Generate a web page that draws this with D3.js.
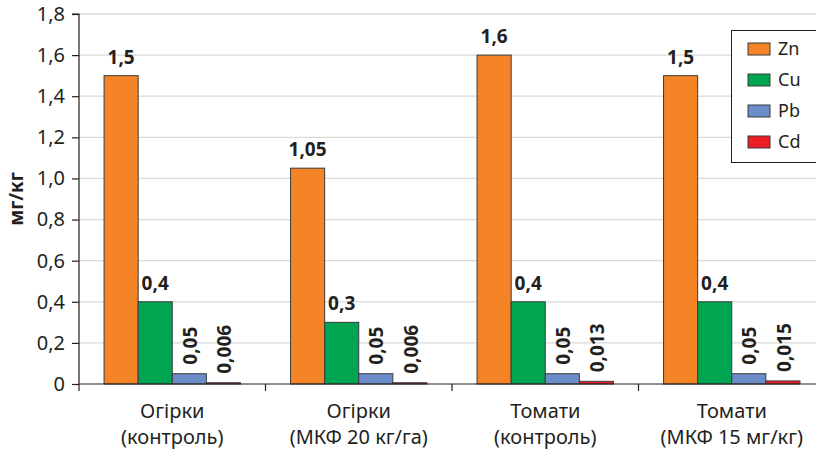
<!DOCTYPE html>
<html>
<head>
<meta charset="utf-8">
<script src="https://cdn.jsdelivr.net/npm/d3@7"></script>
<style>
  html, body { margin: 0; padding: 0; background: #fff; }
  svg { display: block; }
  text { font-family: "Noto Sans", "Open Sans", sans-serif; fill: #231f20; }
</style>
</head>
<body>
<svg id="chart" width="816" height="450"></svg>
<script>
// Heavy metal content by crop and treatment, mg/kg
const categories = [
  ["Огірки", "(контроль)"],
  ["Огірки", "(МКФ 20 кг/га)"],
  ["Томати", "(контроль)"],
  ["Томати", "(МКФ 15 мг/кг)"]
];
const seriesNames = ["Zn", "Cu", "Pb", "Cd"];
const zn = [1.5, 1.05, 1.6, 1.5];
const cu = [0.4, 0.3, 0.4, 0.4];
const pb = [0.05, 0.05, 0.05, 0.05];
const cd = [0.006, 0.006, 0.013, 0.015];
const valueLabels = [
  ["1,5", "1,05", "1,6", "1,5"],
  ["0,4", "0,3", "0,4", "0,4"],
  ["0,05", "0,05", "0,05", "0,05"],
  ["0,006", "0,006", "0,013", "0,015"]
];
const yTicks = [0, 0.2, 0.4, 0.6, 0.8, 1.0, 1.2, 1.4, 1.6, 1.8];
const yTickLabels = ["0", "0,2", "0,4", "0,6", "0,8", "1,0", "1,2", "1,4", "1,6", "1,8"];
const colors = ["#f58426", "#00a551", "#6b8ecb", "#ee1d25"];
const yTitle = "мг/кг";

const series = [zn, cu, pb, cd];

const svg = d3.select("#chart");
const margin = { left: 79, top: 14, bottom: 66 };
const plotW = 746; // four categories, the last one runs past the right edge
const H = 450;
const plotBottom = H - margin.bottom;

const x0 = d3.scaleBand()
  .domain(d3.range(categories.length))
  .range([margin.left, margin.left + plotW])
  .paddingInner(0)
  .paddingOuter(0);

const x1 = d3.scaleBand()
  .domain(d3.range(seriesNames.length))
  .range([0, x0.bandwidth()])
  .paddingOuter(0.735)
  .paddingInner(0);

const y = d3.scaleLinear()
  .domain([0, 1.8])
  .range([plotBottom, margin.top]);

// gridlines
svg.append("g")
  .selectAll("line")
  .data(yTicks.slice(1))
  .join("line")
  .attr("x1", margin.left)
  .attr("x2", 816)
  .attr("y1", d => y(d))
  .attr("y2", d => y(d))
  .attr("stroke", "#d9d9d9")
  .attr("stroke-width", 1.3);

// y axis
const yAxis = d3.axisLeft(y)
  .tickValues(yTicks)
  .tickFormat((d, i) => yTickLabels[i])
  .tickSize(7)
  .tickPadding(7);
const gy = svg.append("g")
  .attr("transform", `translate(${margin.left},0)`)
  .call(yAxis);
gy.select(".domain").attr("stroke", "#231f20").attr("stroke-width", 1.2).attr("d", `M-7,${y(1.8)}H0V${plotBottom}`);
gy.selectAll(".tick line").attr("stroke", "#231f20").attr("stroke-width", 1.2);
gy.selectAll(".tick text")
  .style("font-family", '"Noto Sans", "Open Sans", sans-serif')
  .style("font-size", "20px")
  .attr("fill", "#231f20");

// bars
const groups = svg.append("g")
  .selectAll("g")
  .data(categories.map((c, i) => i))
  .join("g")
  .attr("transform", i => `translate(${x0(i)},0)`);

groups.selectAll("rect")
  .data(ci => series.map((s, si) => ({ si, ci, v: s[ci] })))
  .join("rect")
  .attr("x", d => x1(d.si))
  .attr("width", x1.bandwidth())
  .attr("y", d => y(d.v))
  .attr("height", d => plotBottom - y(d.v))
  .attr("fill", d => colors[d.si])
  .attr("stroke", "#3a3a3a")
  .attr("stroke-width", 1);

// value labels: tall bars horizontal, short bars rotated
groups.selectAll("text.val")
  .data(ci => series.map((s, si) => ({ si, ci, v: s[ci] })))
  .join("text")
  .attr("class", "val")
  .style("font-size", "19px")
  .style("font-weight", "bold")
  .each(function (d) {
    const cx = x1(d.si) + x1.bandwidth() / 2;
    const t = d3.select(this).text(valueLabels[d.si][d.ci]);
    if (d.si < 2) {
      t.attr("x", cx).attr("y", y(d.v) - 12).attr("text-anchor", "middle");
    } else {
      t.attr("transform", `translate(${cx + 1},${y(d.v) - 9}) rotate(-90)`)
        .attr("text-anchor", "start")
        .attr("dy", "0.35em");
    }
  });

// x axis
svg.append("line")
  .attr("x1", margin.left).attr("x2", 816)
  .attr("y1", plotBottom).attr("y2", plotBottom)
  .attr("stroke", "#231f20").attr("stroke-width", 1.2);

svg.append("g")
  .selectAll("line")
  .data(d3.range(categories.length))
  .join("line")
  .attr("x1", i => x0(i)).attr("x2", i => x0(i))
  .attr("y1", plotBottom).attr("y2", plotBottom + 7)
  .attr("stroke", "#231f20").attr("stroke-width", 1.2);

const catLabels = svg.append("g")
  .selectAll("text")
  .data(categories)
  .join("text")
  .attr("text-anchor", "middle")
  .style("font-size", "20px")
  .attr("transform", (d, i) => `translate(${x0(i) + x0.bandwidth() / 2},0)`);
catLabels.append("tspan").attr("x", 0).attr("y", 418).text(d => d[0]);
catLabels.append("tspan").attr("x", 0).attr("y", 444).text(d => d[1]);

// y axis title
svg.append("text")
  .attr("transform", `translate(23,${(margin.top + plotBottom) / 2}) rotate(-90)`)
  .attr("text-anchor", "middle")
  .style("font-size", "19px")
  .style("font-weight", "bold")
  .text(yTitle);

// legend
const legend = svg.append("g");
legend.append("rect")
  .attr("x", 731.5).attr("y", 30.5)
  .attr("width", 100).attr("height", 132)
  .attr("fill", "#fff")
  .attr("stroke", "#231f20").attr("stroke-width", 1);

const items = legend.selectAll("g.item")
  .data(seriesNames)
  .join("g")
  .attr("class", "item")
  .attr("transform", (d, i) => `translate(748,${49 + i * 31})`);
items.append("rect")
  .attr("x", 0).attr("y", -6)
  .attr("width", 22).attr("height", 12)
  .attr("fill", (d, i) => colors[i])
  .attr("stroke", "#3a3a3a").attr("stroke-width", 1);
items.append("text")
  .attr("x", 30).attr("y", 0).attr("dy", "0.35em")
  .style("font-size", "18px")
  .text(d => d);
</script>
</body>
</html>
